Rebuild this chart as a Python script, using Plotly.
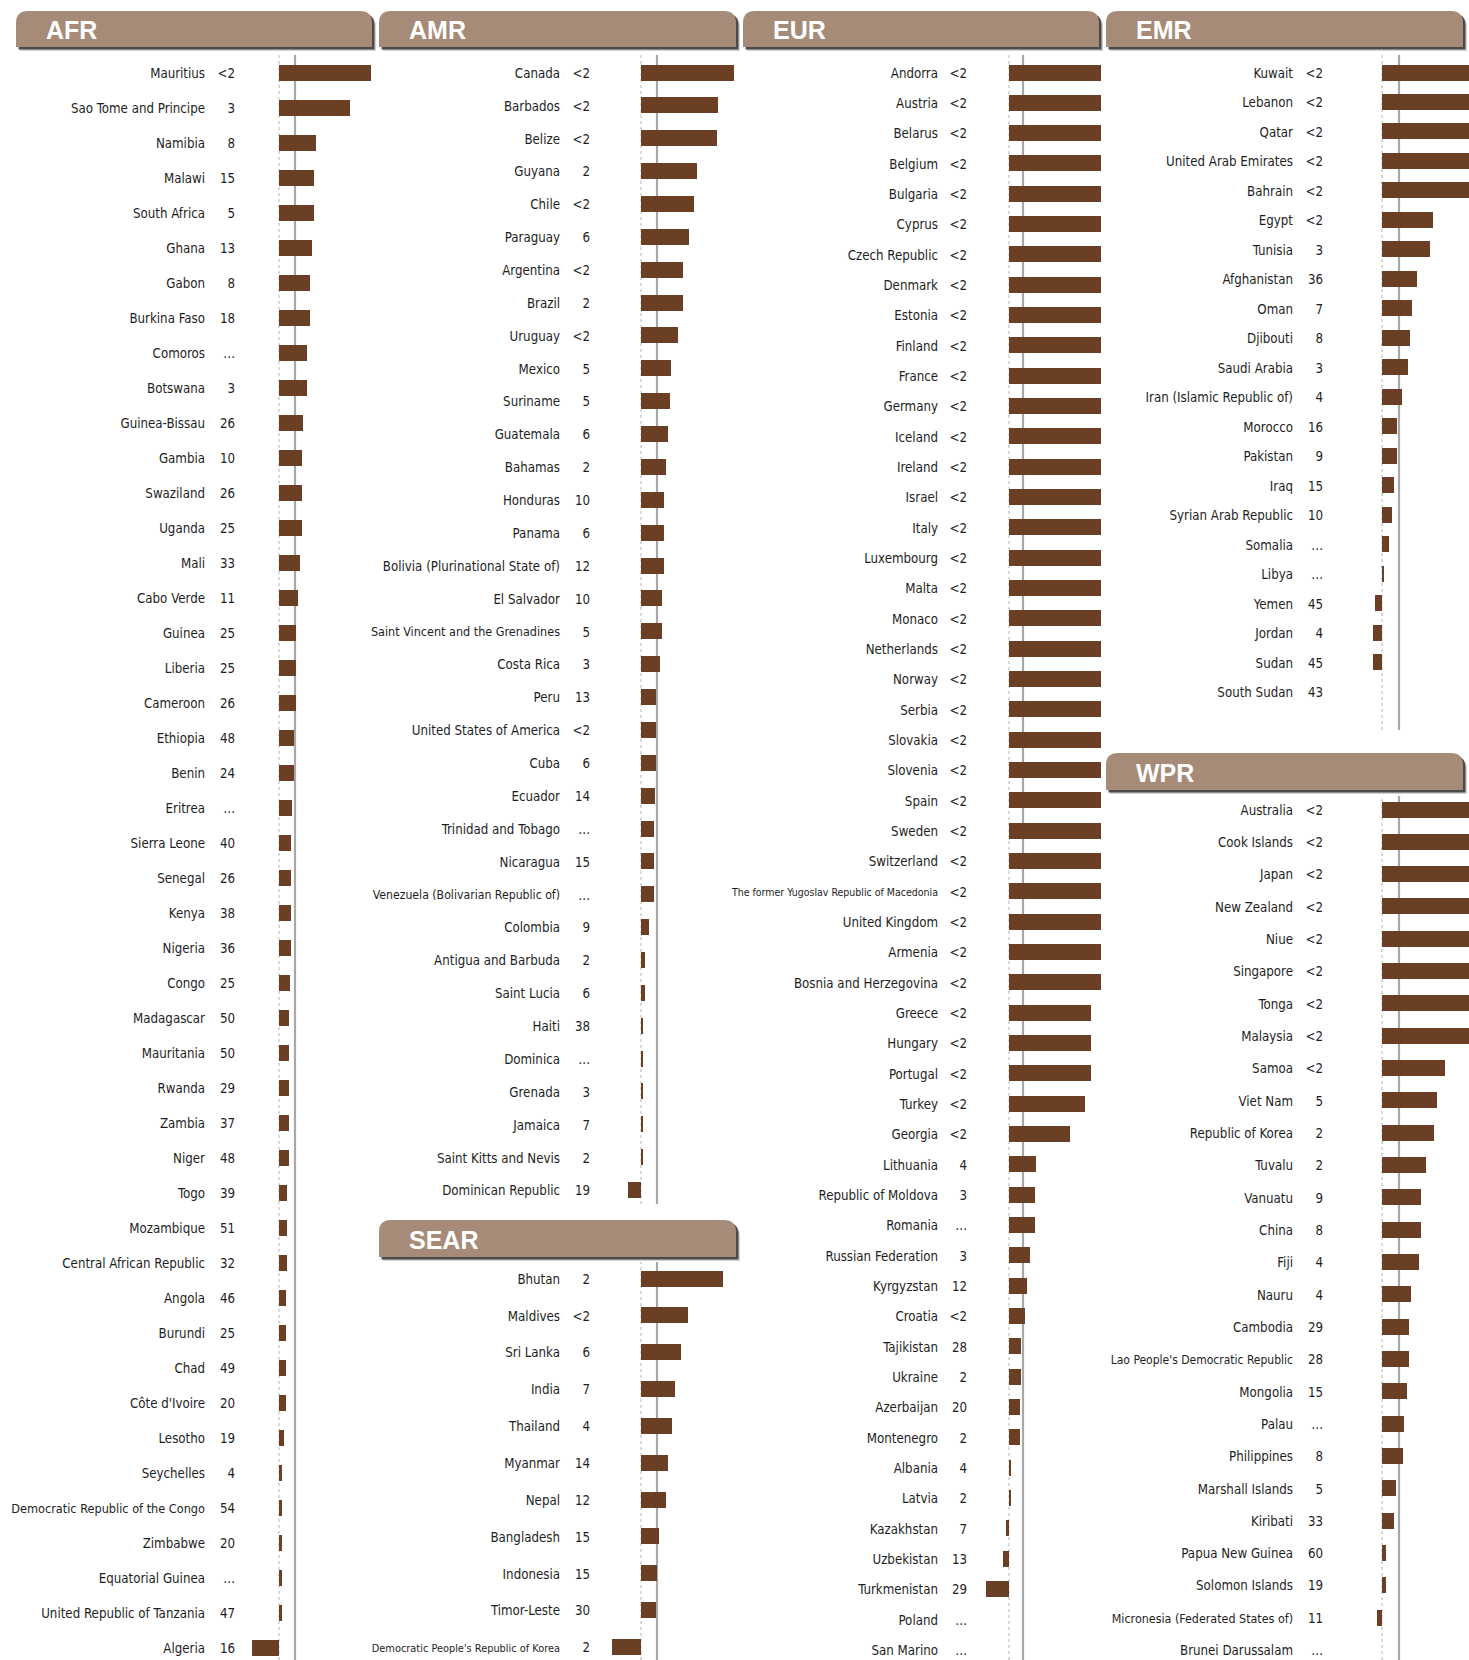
import plotly.graph_objects as go

W, H = 1469, 1660

# ---------------- data ----------------
afr_countries = ["Mauritius", "Sao Tome and Principe", "Namibia", "Malawi", "South Africa", "Ghana", "Gabon",
                 "Burkina Faso", "Comoros", "Botswana", "Guinea-Bissau", "Gambia", "Swaziland", "Uganda", "Mali",
                 "Cabo Verde", "Guinea", "Liberia", "Cameroon", "Ethiopia", "Benin", "Eritrea", "Sierra Leone",
                 "Senegal", "Kenya", "Nigeria", "Congo", "Madagascar", "Mauritania", "Rwanda", "Zambia", "Niger",
                 "Togo", "Mozambique", "Central African Republic", "Angola", "Burundi", "Chad", "Côte d'Ivoire",
                 "Lesotho", "Seychelles", "Democratic Republic of the Congo", "Zimbabwe", "Equatorial Guinea",
                 "United Republic of Tanzania", "Algeria"]
afr_labels = ["<2", "3", "8", "15", "5", "13", "8", "18", "…", "3", "26", "10", "26", "25", "33", "11", "25", "25",
              "26", "48", "24", "…", "40", "26", "38", "36", "25", "50", "50", "29", "37", "48", "39", "51", "32",
              "46", "25", "49", "20", "19", "4", "54", "20", "…", "47", "16"]
afr_bars = [92, 71, 37, 35, 35, 33, 31, 31, 28, 28, 24, 23, 23, 23, 21, 19, 17, 17, 17, 15, 15, 13, 12, 12, 12, 12,
            11, 10, 10, 10, 10, 10, 8, 8, 8, 7, 7, 7, 7, 5, 3, 3, 3, 3, 3, -27]

amr_countries = ["Canada", "Barbados", "Belize", "Guyana", "Chile", "Paraguay", "Argentina", "Brazil", "Uruguay",
                 "Mexico", "Suriname", "Guatemala", "Bahamas", "Honduras", "Panama", "Bolivia (Plurinational State of)",
                 "El Salvador", "Saint Vincent and the Grenadines", "Costa Rica", "Peru", "United States of America",
                 "Cuba", "Ecuador", "Trinidad and Tobago", "Nicaragua", "Venezuela (Bolivarian Republic of)",
                 "Colombia", "Antigua and Barbuda", "Saint Lucia", "Haiti", "Dominica", "Grenada", "Jamaica",
                 "Saint Kitts and Nevis", "Dominican Republic"]
amr_labels = ["<2", "<2", "<2", "2", "<2", "6", "<2", "2", "<2", "5", "5", "6", "2", "10", "6", "12", "10", "5", "3",
              "13", "<2", "6", "14", "…", "15", "…", "9", "2", "6", "38", "…", "3", "7", "2", "19"]
amr_bars = [93, 77, 76, 56, 53, 48, 42, 42, 37, 30, 29, 27, 25, 23, 23, 23, 21, 21, 19, 15, 15, 15, 14, 13, 13, 13,
            8, 4, 4, 2, 2, 2, 2, 2, -13]

eur_countries = ["Andorra", "Austria", "Belarus", "Belgium", "Bulgaria", "Cyprus", "Czech Republic", "Denmark",
                 "Estonia", "Finland", "France", "Germany", "Iceland", "Ireland", "Israel", "Italy", "Luxembourg",
                 "Malta", "Monaco", "Netherlands", "Norway", "Serbia", "Slovakia", "Slovenia", "Spain", "Sweden",
                 "Switzerland", "The former Yugoslav Republic of Macedonia", "United Kingdom", "Armenia",
                 "Bosnia and Herzegovina", "Greece", "Hungary", "Portugal", "Turkey", "Georgia", "Lithuania",
                 "Republic of Moldova", "Romania", "Russian Federation", "Kyrgyzstan", "Croatia", "Tajikistan",
                 "Ukraine", "Azerbaijan", "Montenegro", "Albania", "Latvia", "Kazakhstan", "Uzbekistan",
                 "Turkmenistan", "Poland", "San Marino"]
eur_labels = ["<2"] * 36 + ["4", "3", "…", "3", "12", "<2", "28", "2", "20", "2", "4", "2", "7", "13", "29", "…", "…"]
eur_bars = [92] * 31 + [82, 82, 82, 76, 61, 27, 26, 26, 21, 18, 16, 12, 12, 11, 11, 2, 2, -3, -6, -23, None, None]

emr_countries = ["Kuwait", "Lebanon", "Qatar", "United Arab Emirates", "Bahrain", "Egypt", "Tunisia", "Afghanistan",
                 "Oman", "Djibouti", "Saudi Arabia", "Iran (Islamic Republic of)", "Morocco", "Pakistan", "Iraq",
                 "Syrian Arab Republic", "Somalia", "Libya", "Yemen", "Jordan", "Sudan", "South Sudan"]
emr_labels = ["<2", "<2", "<2", "<2", "<2", "<2", "3", "36", "7", "8", "3", "4", "16", "9", "15", "10", "…", "…",
              "45", "4", "45", "43"]
emr_bars = [92, 92, 92, 92, 92, 51, 48, 35, 30, 28, 26, 20, 15, 15, 12, 10, 7, 2, -7, -9, -9, None]

wpr_countries = ["Australia", "Cook Islands", "Japan", "New Zealand", "Niue", "Singapore", "Tonga", "Malaysia",
                 "Samoa", "Viet Nam", "Republic of Korea", "Tuvalu", "Vanuatu", "China", "Fiji", "Nauru", "Cambodia",
                 "Lao People's Democratic Republic", "Mongolia", "Palau", "Philippines", "Marshall Islands",
                 "Kiribati", "Papua New Guinea", "Solomon Islands", "Micronesia (Federated States of)",
                 "Brunei Darussalam"]
wpr_labels = ["<2"] * 9 + ["5", "2", "2", "9", "8", "4", "4", "29", "28", "15", "…", "8", "5", "33", "60", "19",
                           "11", "…"]
wpr_bars = [92] * 8 + [63, 55, 52, 44, 39, 39, 37, 29, 27, 27, 25, 22, 21, 14, 12, 4, 4, -5, None]

sear_countries = ["Bhutan", "Maldives", "Sri Lanka", "India", "Thailand", "Myanmar", "Nepal", "Bangladesh",
                  "Indonesia", "Timor-Leste", "Democratic People's Republic of Korea"]
sear_labels = ["2", "<2", "6", "7", "4", "14", "12", "15", "15", "30", "2"]
sear_bars = [82, 47, 40, 34, 31, 27, 25, 18, 16, 15, -29]

ref_value = 16  # reference line position in bar units

# ---------------- layout of panels (pixels) ----------------
panels = [
    dict(title="AFR", names=afr_countries, labels=afr_labels, bars=afr_bars,
         x0=0, x1=376, zero=279, ref=ref_value, name_r=205, val_r=235,
         ytop=55, ybot=1660, first=72.5, step=35.0, hdr=(16, 11, 372, 47)),
    dict(title="AMR", names=amr_countries, labels=amr_labels, bars=amr_bars,
         x0=377, x1=740, zero=641, ref=ref_value, name_r=560, val_r=590,
         ytop=55, ybot=1204, first=72.5, step=32.87, hdr=(379, 11, 736, 47)),
    dict(title="EUR", names=eur_countries, labels=eur_labels, bars=eur_bars,
         x0=741, x1=1104, zero=1009, ref=ref_value - 2, name_r=938, val_r=967,
         ytop=55, ybot=1660, first=72.5, step=30.33, hdr=(743, 11, 1099, 47)),
    dict(title="EMR", names=emr_countries, labels=emr_labels, bars=emr_bars,
         x0=1105, x1=1469, zero=1382, ref=ref_value + 1, name_r=1293, val_r=1323,
         ytop=55, ybot=730, first=72.5, step=29.49, hdr=(1106, 11, 1463, 47)),
    dict(title="WPR", names=wpr_countries, labels=wpr_labels, bars=wpr_bars,
         x0=1105, x1=1469, zero=1382, ref=ref_value + 1, name_r=1293, val_r=1323,
         ytop=796, ybot=1660, first=809.5, step=32.32, hdr=(1106, 753, 1463, 790)),
    dict(title="SEAR", names=sear_countries, labels=sear_labels, bars=sear_bars,
         x0=377, x1=740, zero=641, ref=ref_value, name_r=560, val_r=590,
         ytop=1262, ybot=1660, first=1278.5, step=36.84, hdr=(379, 1220, 736, 1257)),
]

small_names = {"The former Yugoslav Republic of Macedonia": 10.5,
               "Democratic People's Republic of Korea": 10.9,
               "Lao People's Democratic Republic": 12.0,
               "Micronesia (Federated States of)": 12.4,
               "Saint Vincent and the Grenadines": 12.5,
               "Venezuela (Bolivarian Republic of)": 12.2,
               "Democratic Republic of the Congo": 12.6}

FONT = "DejaVu Sans Condensed, Liberation Sans Narrow, Arial Narrow, sans-serif"
BASE = 13.2
TEXT_DROP = 2.0  # px: text baseline sits slightly below bar centre
BAR_COLOR = "#6B3F24"
HDR_COLOR = "#A68B78"
TXT = "#1E1E1E"


def px(x):
    return x / W


def py(y):
    return 1 - y / H


def tab_path(x0, y0, x1, y1, r, dx=0, dy=0):
    x0 += dx; x1 += dx; y0 += dy; y1 += dy
    pts = (f"M {px(x0)},{py(y1)} L {px(x0)},{py(y0 + r)} "
           f"Q {px(x0)},{py(y0)} {px(x0 + r)},{py(y0)} "
           f"L {px(x1 - r)},{py(y0)} Q {px(x1)},{py(y0)} {px(x1)},{py(y0 + r)} "
           f"L {px(x1)},{py(y1)} Z")
    return pts


fig = go.Figure()
layout = dict(width=W, height=H, margin=dict(l=0, r=0, t=0, b=0), autosize=False,
              paper_bgcolor="white", plot_bgcolor="rgba(0,0,0,0)", showlegend=False,
              bargap=0)
shapes = []
annotations = []

for i, p in enumerate(panels, start=1):
    n = len(p["names"])
    rows = list(range(n))
    text_rows = [r + TEXT_DROP / p["step"] for r in rows]
    xa = "x" if i == 1 else f"x{i}"
    ya = "y" if i == 1 else f"y{i}"
    xkey = "xaxis" if i == 1 else f"xaxis{i}"
    ykey = "yaxis" if i == 1 else f"yaxis{i}"
    layout[xkey] = dict(domain=[px(p["x0"]), px(p["x1"])],
                        range=[p["x0"] - p["zero"], p["x1"] - p["zero"]],
                        visible=False, fixedrange=True, anchor=ya)
    layout[ykey] = dict(domain=[py(p["ybot"]), py(p["ytop"])],
                        range=[(p["ybot"] - p["first"]) / p["step"], (p["ytop"] - p["first"]) / p["step"]],
                        visible=False, fixedrange=True, anchor=xa)

    fig.add_trace(go.Bar(x=p["bars"], y=rows, orientation="h", base=0,
                         width=16 / p["step"], marker=dict(color=BAR_COLOR, line=dict(width=0)),
                         xaxis=xa, yaxis=ya, hoverinfo="skip"))
    sizes = [small_names.get(nm, BASE) for nm in p["names"]]
    fig.add_trace(go.Scatter(x=[p["name_r"] - p["zero"]] * n, y=text_rows, mode="text", text=p["names"],
                             textposition="middle left", cliponaxis=False,
                             textfont=dict(family=FONT, size=sizes, color=TXT),
                             xaxis=xa, yaxis=ya, hoverinfo="skip"))
    fig.add_trace(go.Scatter(x=[p["val_r"] - p["zero"]] * n, y=text_rows, mode="text", text=p["labels"],
                             textposition="middle left", cliponaxis=False,
                             textfont=dict(family=FONT, size=BASE, color=TXT),
                             xaxis=xa, yaxis=ya, hoverinfo="skip"))

    # zero (dotted) and reference (solid) lines
    shapes.append(dict(type="line", xref=xa, yref=f"{ya} domain", x0=0, x1=0, y0=0, y1=1,
                       line=dict(color="#B4B4B4", width=1, dash="dot"), layer="below"))
    shapes.append(dict(type="line", xref=xa, yref=f"{ya} domain", x0=p["ref"], x1=p["ref"], y0=0, y1=1,
                       line=dict(color="#A8A8A8", width=2.2), layer="below"))

    # header tab with shadow
    hx0, hy0, hx1, hy1 = p["hdr"]
    shapes.append(dict(type="path", xref="paper", yref="paper", path=tab_path(hx0, hy0, hx1, hy1, 12, 4, 4),
                       fillcolor="rgba(0,0,0,0.18)", line=dict(width=0), layer="above"))
    shapes.append(dict(type="path", xref="paper", yref="paper", path=tab_path(hx0, hy0, hx1, hy1, 12, 2.5, 2.5),
                       fillcolor="rgba(50,50,50,0.85)", line=dict(width=0), layer="above"))
    shapes.append(dict(type="path", xref="paper", yref="paper", path=tab_path(hx0, hy0, hx1, hy1, 12),
                       fillcolor=HDR_COLOR, line=dict(width=0), layer="above"))
    annotations.append(dict(xref="paper", yref="paper", x=px(hx0 + 28), y=py((hy0 + hy1) / 2 + 1),
                            xanchor="left", yanchor="middle", text=p["title"], showarrow=False,
                            font=dict(family="Liberation Sans, Arial, sans-serif", size=25, color="white",
                                      weight="bold")))

layout["shapes"] = shapes
layout["annotations"] = annotations
fig.update_layout(**layout)
fig.write_html("out.html", config={"displayModeBar": False},
               post_script="document.body.style.margin='0px';document.body.style.overflow='hidden';")
